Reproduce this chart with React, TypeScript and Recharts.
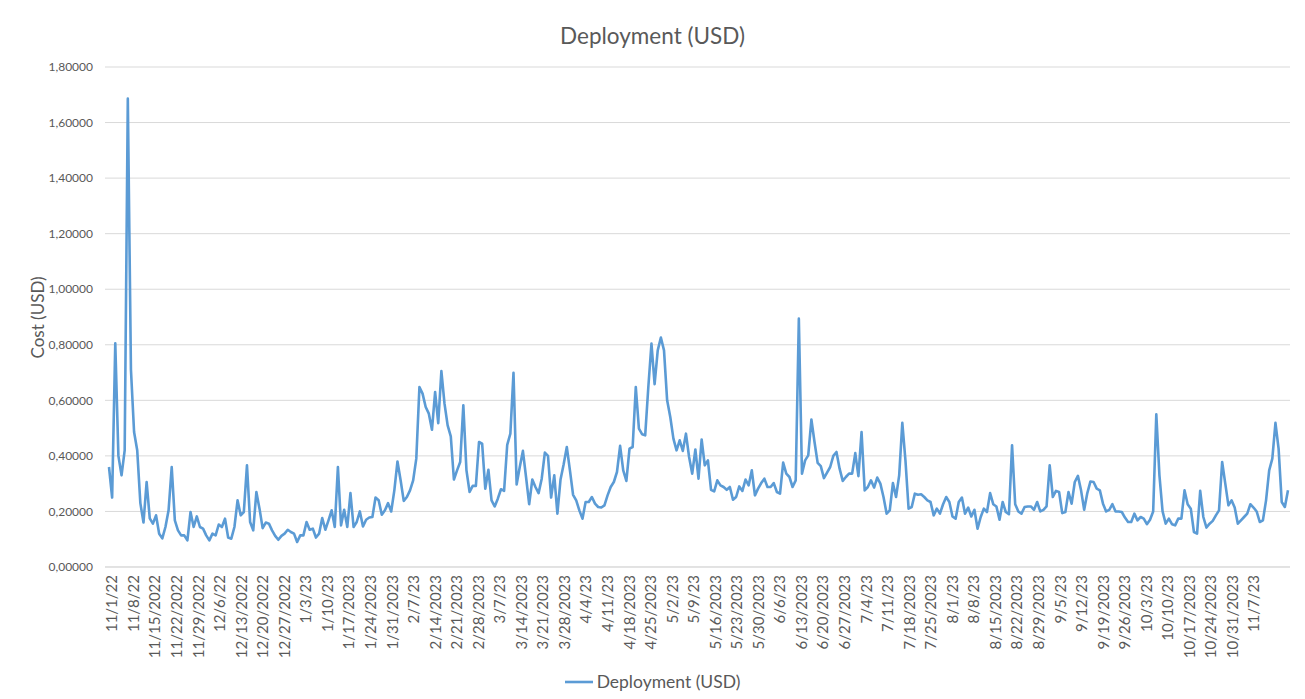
import { LineChart, Line, XAxis, YAxis, CartesianGrid } from 'recharts'

// daily deployment cost
const nov22 = [0.36, 0.25, 0.805, 0.4, 0.33, 0.42, 1.686, 0.71, 0.486, 0.42, 0.23, 0.16, 0.306, 0.175, 0.156, 0.186, 0.12, 0.103, 0.144, 0.204, 0.36, 0.168, 0.132, 0.114, 0.114, 0.096, 0.198, 0.144, 0.182, 0.144]
const dec22 = [0.138, 0.114, 0.096, 0.12, 0.114, 0.153, 0.144, 0.174, 0.106, 0.102, 0.144, 0.24, 0.186, 0.198, 0.366, 0.162, 0.132, 0.27, 0.21, 0.14, 0.16, 0.156, 0.132, 0.112, 0.098, 0.112, 0.12, 0.134, 0.126, 0.12, 0.09]
const jan23 = [0.114, 0.114, 0.162, 0.134, 0.138, 0.106, 0.12, 0.176, 0.134, 0.168, 0.204, 0.144, 0.36, 0.15, 0.206, 0.144, 0.266, 0.144, 0.162, 0.2, 0.146, 0.17, 0.178, 0.18, 0.25, 0.24, 0.188, 0.204, 0.23, 0.2, 0.276]
const feb23 = [0.38, 0.312, 0.238, 0.252, 0.276, 0.312, 0.39, 0.648, 0.624, 0.576, 0.552, 0.494, 0.63, 0.518, 0.705, 0.588, 0.51, 0.47, 0.315, 0.348, 0.378, 0.582, 0.348, 0.27, 0.292, 0.292, 0.45, 0.444]
const mar23 = [0.282, 0.35, 0.24, 0.218, 0.246, 0.28, 0.274, 0.44, 0.48, 0.699, 0.297, 0.36, 0.418, 0.324, 0.226, 0.315, 0.288, 0.266, 0.318, 0.412, 0.4, 0.25, 0.33, 0.192, 0.315, 0.37, 0.432, 0.348, 0.26, 0.24, 0.204]
const apr23 = [0.174, 0.234, 0.234, 0.252, 0.228, 0.216, 0.214, 0.222, 0.258, 0.288, 0.306, 0.342, 0.436, 0.348, 0.31, 0.426, 0.432, 0.648, 0.498, 0.478, 0.474, 0.648, 0.804, 0.658, 0.78, 0.826, 0.78, 0.6, 0.54, 0.462]
const may23 = [0.42, 0.456, 0.418, 0.48, 0.396, 0.336, 0.423, 0.318, 0.459, 0.366, 0.384, 0.278, 0.272, 0.312, 0.294, 0.288, 0.278, 0.288, 0.242, 0.252, 0.29, 0.274, 0.315, 0.294, 0.348, 0.258, 0.282, 0.302, 0.318, 0.288, 0.288]
const jun23 = [0.302, 0.27, 0.264, 0.376, 0.336, 0.324, 0.288, 0.312, 0.894, 0.336, 0.384, 0.402, 0.531, 0.45, 0.375, 0.363, 0.32, 0.34, 0.36, 0.4, 0.414, 0.354, 0.31, 0.324, 0.336, 0.336, 0.41, 0.327, 0.486, 0.276]
const jul23 = [0.288, 0.312, 0.286, 0.322, 0.3, 0.252, 0.192, 0.204, 0.302, 0.252, 0.33, 0.519, 0.384, 0.21, 0.216, 0.264, 0.26, 0.262, 0.252, 0.24, 0.234, 0.186, 0.21, 0.192, 0.226, 0.252, 0.234, 0.182, 0.174, 0.234, 0.25]
const aug23 = [0.192, 0.214, 0.182, 0.206, 0.138, 0.18, 0.21, 0.198, 0.266, 0.226, 0.218, 0.17, 0.234, 0.198, 0.19, 0.438, 0.226, 0.2, 0.192, 0.216, 0.218, 0.218, 0.206, 0.234, 0.2, 0.206, 0.218, 0.366, 0.252, 0.274, 0.27]
const sep23 = [0.194, 0.198, 0.27, 0.228, 0.306, 0.328, 0.276, 0.206, 0.266, 0.308, 0.306, 0.282, 0.276, 0.228, 0.2, 0.206, 0.226, 0.2, 0.2, 0.198, 0.178, 0.162, 0.162, 0.192, 0.168, 0.18, 0.174, 0.154, 0.17, 0.2]
const oct23 = [0.55, 0.33, 0.2, 0.156, 0.174, 0.154, 0.15, 0.174, 0.174, 0.276, 0.226, 0.21, 0.126, 0.12, 0.274, 0.18, 0.142, 0.156, 0.166, 0.186, 0.204, 0.378, 0.3, 0.222, 0.24, 0.214, 0.156, 0.168, 0.18, 0.192, 0.226]
const nov23 = [0.214, 0.2, 0.162, 0.168, 0.24, 0.348, 0.39, 0.519, 0.426, 0.234, 0.216, 0.276]

// one label per week, as Excel printed them (date axis, 11/1/22 .. 11/19/23)
const weekLabels = [
  '11/1/22', '11/8/22', '11/15/2022', '11/22/2022', '11/29/2022', '12/6/22', '12/13/2022', '12/20/2022', '12/27/2022',
  '1/3/23', '1/10/23', '1/17/2023', '1/24/2023', '1/31/2023', '2/7/23', '2/14/2023', '2/21/2023', '2/28/2023',
  '3/7/23', '3/14/2023', '3/21/2023', '3/28/2023', '4/4/23', '4/11/23', '4/18/2023', '4/25/2023', '5/2/23',
  '5/9/23', '5/16/2023', '5/23/2023', '5/30/2023', '6/6/23', '6/13/2023', '6/20/2023', '6/27/2023', '7/4/23',
  '7/11/23', '7/18/2023', '7/25/2023', '8/1/23', '8/8/23', '8/15/2023', '8/22/2023', '8/29/2023', '9/5/23',
  '9/12/23', '9/19/2023', '9/26/2023', '10/3/23', '10/10/23', '10/17/2023', '10/24/2023', '10/31/2023', '11/7/23',
]
const lastDay = 383

const yTicks = [0, 0.2, 0.4, 0.6, 0.8, 1.0, 1.2, 1.4, 1.6, 1.8]

const costs = [...nov22, ...dec22, ...jan23, ...feb23, ...mar23, ...apr23, ...may23, ...jun23, ...jul23, ...aug23, ...sep23, ...oct23, ...nov23]
const data = costs.map((cost, idx) => ({ idx, cost }))
const weekTicks = weekLabels.map((_, w) => w * 7)

const textColor = '#595959'
const lineColor = '#5b9bd5'

function DateTick(props: any) {
  const { x, y, payload } = props
  const label = weekLabels[payload.value / 7] ?? ''
  return (
    <text
      x={x}
      y={y}
      transform={`rotate(-90 ${x} ${y})`}
      textAnchor="end"
      dy="0.56em"
      fill={textColor}
      fontSize={15}
    >
      {label}
    </text>
  )
}

const formatCost = (v: number) => v.toFixed(5).replace('.', ',')

export default function App() {
  return (
    <div
      style={{
        position: 'absolute',
        left: 0,
        top: 0,
        width: 1305,
        height: 699,
        background: '#fff',
        fontFamily: 'Lato, sans-serif',
      }}
    >
      <div
        style={{
          position: 'absolute',
          top: 22,
          left: 0,
          width: 1305,
          textAlign: 'center',
          fontSize: 22.5,
          color: textColor,
        }}
      >
        Deployment (USD)
      </div>
      <div
        style={{
          position: 'absolute',
          left: 37 - 100,
          top: 318 - 11,
          width: 200,
          textAlign: 'center',
          fontSize: 17,
          color: textColor,
          transform: 'rotate(-90deg)',
        }}
      >
        Cost (USD)
      </div>

      <LineChart width={1305} height={699} data={data} margin={{ top: 67, right: 15, bottom: 12, left: 0 }}>
        <CartesianGrid vertical={false} stroke="#d9d9d9" xAxisId="date" />
        <XAxis xAxisId="points" dataKey="idx" hide padding={{ left: 4, right: 2 }} />
        <XAxis
          xAxisId="date"
          type="number"
          dataKey="idx"
          domain={[0, lastDay]}
          ticks={weekTicks}
          interval={0}
          height={120}
          tickSize={0}
          tickMargin={8}
          tick={DateTick}
          axisLine={{ stroke: '#d9d9d9' }}
          padding={{ left: 4, right: 2 }}
          allowDataOverflow
        />
        <YAxis
          width={105}
          domain={[0, 1.8]}
          ticks={yTicks}
          tickFormatter={formatCost}
          axisLine={false}
          tickLine={false}
          tickSize={0}
          tickMargin={12}
          tick={{ fill: textColor, fontSize: 12 }}
        />
        <Line
          xAxisId="points"
          type="linear"
          dataKey="cost"
          stroke={lineColor}
          strokeWidth={2.6}
          strokeLinejoin="round"
          dot={false}
          isAnimationActive={false}
        />
      </LineChart>

      <div
        style={{
          position: 'absolute',
          top: 671,
          left: 0,
          width: 1305,
          display: 'flex',
          justifyContent: 'center',
          alignItems: 'center',
          gap: 4,
          fontSize: 17.5,
          color: textColor,
        }}
      >
        <svg width={28} height={6}>
          <line x1={0} y1={3} x2={28} y2={3} stroke={lineColor} strokeWidth={2.6} />
        </svg>
        <span>Deployment (USD)</span>
      </div>
    </div>
  )
}
